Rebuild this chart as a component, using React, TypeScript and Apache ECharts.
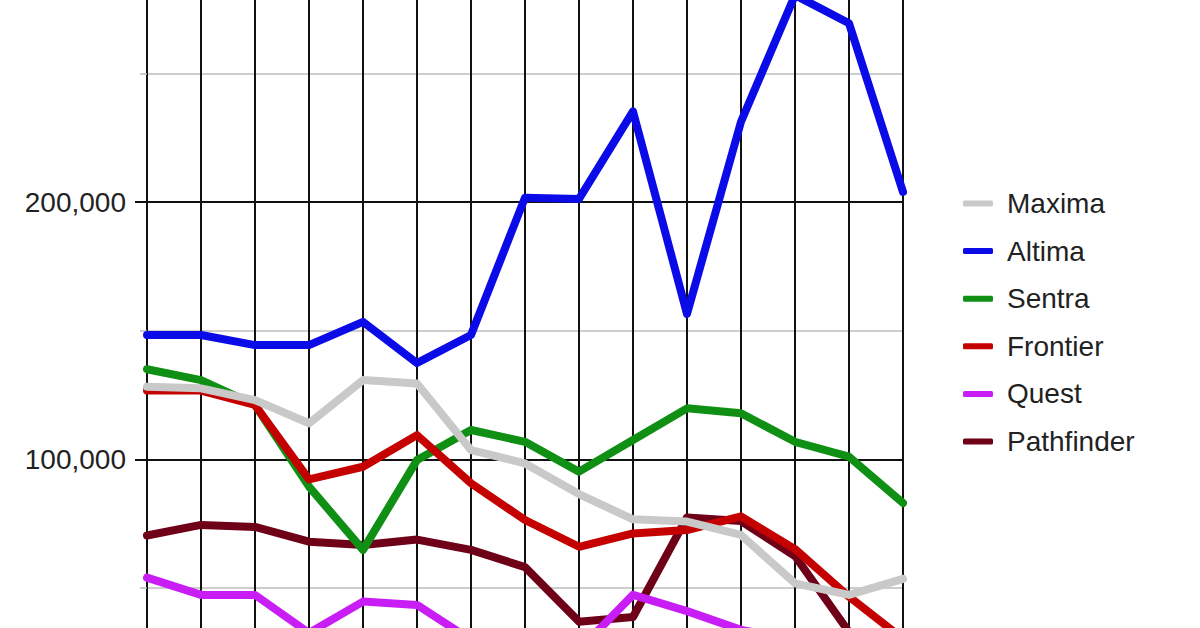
import React, { useRef, useEffect } from 'react';
import * as echarts from 'echarts';

// model sales per period (category labels sit below the visible area)
const categories = ['1995', '1996', '1997', '1998', '1999', '2000', '2001', '2002', '2003', '2004', '2005', '2006', '2007', '2008', '2009'];

const maxima = [128200, 127600, 123000, 114000, 130800, 129500, 103600, 98400, 86500, 76700, 75800, 70600, 51800, 47300, 53500];
const altima = [148300, 148300, 144400, 144400, 153400, 137400, 148300, 201700, 201200, 235200, 156500, 231200, 280400, 269500, 203900];
const sentra = [135000, 130800, 121100, 89400, 64800, 99700, 111400, 106800, 95200, 107500, 119800, 117900, 106800, 101000, 83000];
const frontier = [126700, 126700, 121100, 92200, 97100, 109400, 90700, 76400, 66000, 71200, 72500, 77800, 65100, 46600, 30200];
const quest = [54000, 47300, 47300, 32500, 44700, 43400, 29800, 28000, 25900, 47300, 41000, 33700, 30000, 28000, 27000];
const pathfinder = [70400, 74500, 73700, 68000, 66700, 68800, 64800, 58100, 36900, 38700, 77400, 76000, 62400, 32900, 22000];

const legendOrder = ['Maxima', 'Altima', 'Sentra', 'Frontier', 'Quest', 'Pathfinder'];

const FONT = '"Liberation Sans", Arial, sans-serif';

export default function App() {
    const chartRef = useRef<HTMLDivElement>(null);

    useEffect(() => {
        if (!chartRef.current) return;
        const chart = echarts.init(chartRef.current, null, { renderer: 'svg' });

        // drawing order (later = on top), legend keeps its own order
        const series = [
            { name: 'Pathfinder', data: pathfinder, color: '#6e0018' },
            { name: 'Sentra', data: sentra, color: '#0f8f14' },
            { name: 'Frontier', data: frontier, color: '#c40000' },
            { name: 'Quest', data: quest, color: '#c81df5' },
            { name: 'Maxima', data: maxima, color: '#c9c9c9' },
            { name: 'Altima', data: altima, color: '#0b0be8' },
        ];

        chart.setOption({
            animation: false,
            backgroundColor: '#fff',
            grid: { left: 147, right: 297, top: 4.7, bottom: 23.4, outerBoundsMode: 'none', containLabel: false },
            legend: {
                data: legendOrder,
                orient: 'vertical',
                left: 963,
                top: 249.5,
                padding: 0,
                itemGap: 19.6,
                itemWidth: 30,
                itemHeight: 6,
                icon: 'roundRect',
                textStyle: {
                    fontFamily: FONT,
                    fontSize: 28,
                    color: '#222',
                    padding: [0, 0, 0, 9]
                }
            },
            xAxis: {
                type: 'category',
                data: categories,
                boundaryGap: false,
                axisLine: { show: false },
                axisTick: { show: false },
                // period labels fall below the visible frame
                axisLabel: { fontFamily: FONT, fontSize: 28, color: '#222', margin: 14 },
                splitLine: { show: true, interval: 0, lineStyle: { color: '#111', width: 2 } }
            },
            yAxis: {
                type: 'value',
                min: 0,
                max: 300000,
                interval: 100000,
                axisLine: { show: false },
                axisTick: { show: true, length: 12, lineStyle: { color: '#111', width: 2 } },
                minorTick: { show: true, splitNumber: 2, length: 7, lineStyle: { color: '#bdbdbd', width: 1.5 } },
                minorSplitLine: { show: true, lineStyle: { color: '#bdbdbd', width: 1.5 } },
                splitLine: { show: true, lineStyle: { color: '#111', width: 2 } },
                axisLabel: {
                    fontFamily: FONT,
                    fontSize: 28,
                    color: '#222',
                    margin: 21,
                    formatter: (v: number) => v.toLocaleString('en-US')
                }
            },
            series: series.map(s => ({
                name: s.name,
                type: 'line',
                data: s.data,
                showSymbol: false,
                symbol: 'none',
                color: s.color,
                lineStyle: { width: 8, color: s.color, join: 'round', cap: 'round' },
                itemStyle: { color: s.color }
            }))
        });

        return () => {
            chart.dispose();
        };
    }, []);

    return (
        <div
            ref={chartRef}
            style={{ position: 'fixed', left: 0, top: -60, width: 1200, height: 800, background: '#fff' }}
        />
    );
}
